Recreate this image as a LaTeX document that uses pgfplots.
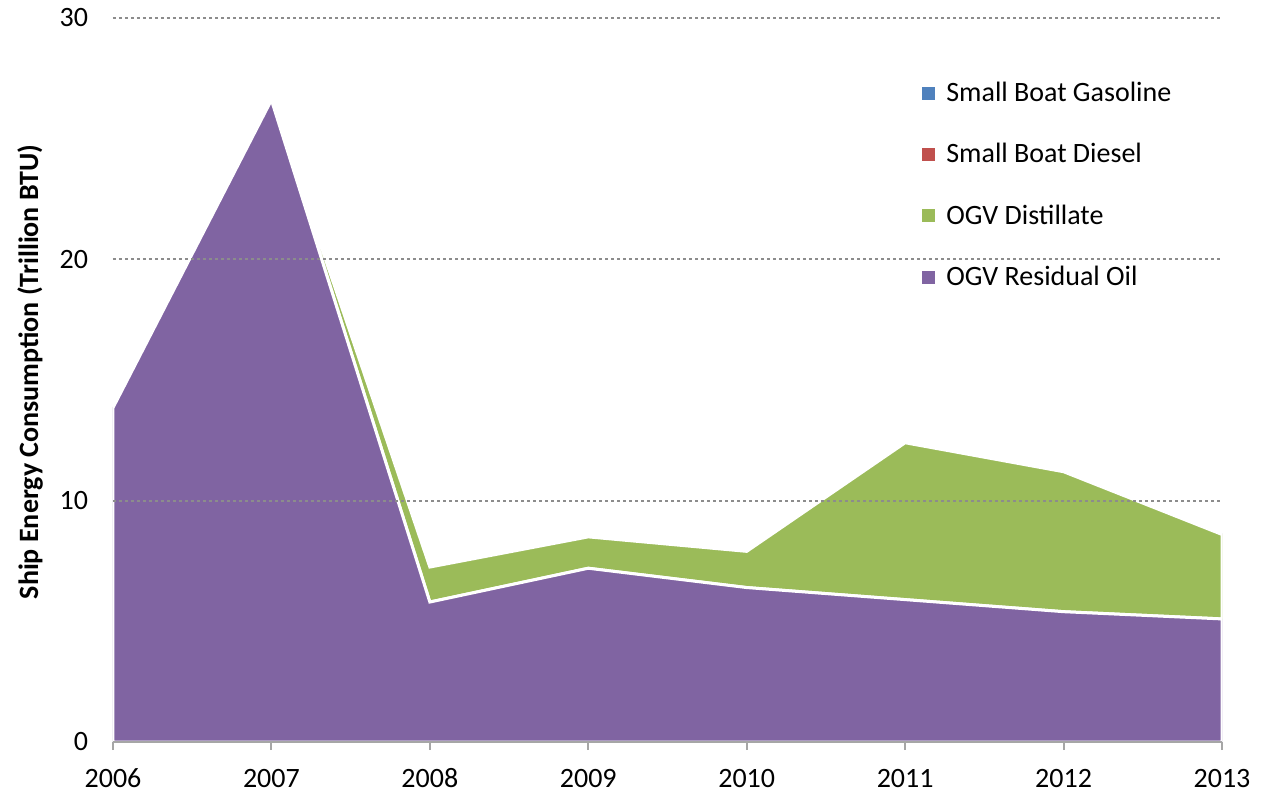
\documentclass[border=0pt]{standalone}
\usepackage{fontspec}
\setmainfont{Carlito}
\usepackage{pgfplots}
\pgfplotsset{compat=1.18}
\definecolor{resid}{HTML}{8064A2}
\definecolor{dist}{HTML}{9BBB59}
\definecolor{dies}{HTML}{C0504D}
\definecolor{gaso}{HTML}{4F81BD}
\newcommand\cf{\fontsize{14pt}{16pt}\selectfont}

\begin{document}
\begin{tikzpicture}
\useasboundingbox (-56.5pt,-25.5pt) rectangle (579.5pt,371pt);
\begin{axis}[
  scale only axis, width=554.5pt, height=362pt,
  xmin=2006, xmax=2013, ymin=0, ymax=30,
  stack plots=y, area style,
  xtick={2006,2007,2008,2009,2010,2011,2012,2013},
  xticklabels={2006,2007,2008,2009,2010,2011,2012,2013},
  ytick={0,10,20,30},
  axis x line*=bottom, axis y line*=left,
  y axis line style={draw=none},
  x axis line style={draw=gray!70, line width=1pt, -},
  ytick style={draw=none},
  xtick style={draw=gray!70, line width=1pt},
  tick align=outside, major tick length=4pt,
  ymajorgrids, grid style={draw=gray!90, line width=1.1pt, dash pattern=on 1.4pt off 1.6pt},
  /pgf/number format/assume math mode=true,
  tick label style={font=\cf},
  yticklabel style={xshift=-5pt},
  xticklabel style={yshift=-6pt, text height=9pt, text depth=0pt},
  ylabel={\textbf{Ship Energy Consumption (Trillion BTU)}},
  ylabel style={font=\cf, at={(axis description cs:-0.0748,0.511)}, anchor=center},
  reverse legend,
  legend style={draw=none, fill=none, at={(0.7236,0.9235)}, anchor=north west,
    font=\cf, row sep=15.5pt, cells={anchor=west}},
  legend image code/.code={\fill[#1,draw=none] (0pt,-3.25pt) rectangle (6.5pt,3.25pt); \path (9.5pt,0pt);},
]
\addplot[fill=resid, draw=white, line width=1.5pt] coordinates {
  (2006,13.85) (2007,26.6) (2008,5.8) (2009,7.2) (2010,6.4) (2011,5.9) (2012,5.4) (2013,5.1)
} \closedcycle;
\addlegendentry{OGV Residual Oil}
\addplot[fill=dist, draw=white, line width=1.5pt] coordinates {
  (2006,0) (2007,0) (2008,1.45) (2009,1.3) (2010,1.5) (2011,6.5) (2012,5.8) (2013,3.5)
} \closedcycle;
\addlegendentry{OGV Distillate}
\addplot[fill=dies, draw=white, line width=1.5pt] coordinates {
  (2006,0.02) (2007,0.02) (2008,0.02) (2009,0.02) (2010,0.02) (2011,0.02) (2012,0.02) (2013,0.02)
} \closedcycle;
\addlegendentry{Small Boat Diesel}
\addplot[fill=gaso, draw=white, line width=1.5pt] coordinates {
  (2006,0.02) (2007,0.02) (2008,0.02) (2009,0.02) (2010,0.02) (2011,0.02) (2012,0.02) (2013,0.02)
} \closedcycle;
\addlegendentry{Small Boat Gasoline}
\end{axis}
\end{tikzpicture}
\end{document}
